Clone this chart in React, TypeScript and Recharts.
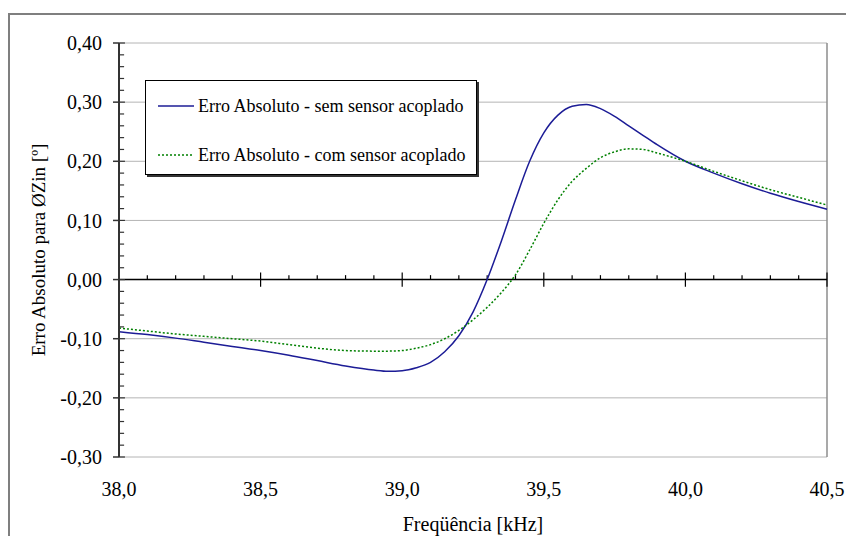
import React from 'react';
import {
  LineChart,
  Line,
  XAxis,
  YAxis,
  CartesianGrid,
  Legend,
  ReferenceLine,
  Label,
} from 'recharts';

// frequency (kHz) and absolute error (º)
const freq = [
  38.0, 38.1, 38.2, 38.3, 38.4, 38.5, 38.6, 38.7, 38.8, 38.9, 38.95, 39.0, 39.05, 39.1,
  39.15, 39.2, 39.25, 39.3, 39.35, 39.4, 39.45, 39.5, 39.55, 39.6, 39.65, 39.7, 39.75,
  39.8, 39.85, 39.9, 40.0, 40.1, 40.2, 40.3, 40.4, 40.5,
];
const semSensor = [
  -0.088, -0.093, -0.099, -0.106, -0.113, -0.12, -0.128, -0.137, -0.146, -0.153, -0.155,
  -0.154, -0.149, -0.14, -0.122, -0.095, -0.055, 0.0, 0.065, 0.135, 0.2, 0.248, 0.278,
  0.293, 0.296, 0.289, 0.276, 0.26, 0.244, 0.228, 0.2, 0.18, 0.162, 0.146, 0.132, 0.119,
];
const comSensor = [
  -0.082, -0.087, -0.092, -0.096, -0.1, -0.104, -0.11, -0.116, -0.12, -0.121, -0.121,
  -0.12, -0.116, -0.11, -0.1, -0.086, -0.068, -0.047, -0.022, 0.008, 0.05, 0.095, 0.135,
  0.166, 0.188, 0.206, 0.216, 0.221, 0.22, 0.214, 0.2, 0.183, 0.167, 0.152, 0.139, 0.126,
];

const xTicks = [38.0, 38.5, 39.0, 39.5, 40.0, 40.5];
const yTicks = [-0.3, -0.2, -0.1, 0.0, 0.1, 0.2, 0.3, 0.4];

const SERIES = [
  { key: 'sem', name: 'Erro Absoluto - sem sensor acoplado', color: '#1c1c96', dash: undefined },
  { key: 'com', name: 'Erro Absoluto - com sensor acoplado', color: '#008000', dash: '2 2' },
];

const data = freq.map((f, i) => ({ f, sem: semSensor[i], com: comSensor[i] }));

// minor tick positions (drawn on the zero line and inside the y axis)
const xMinor = Array.from({ length: 26 }, (_, i) => +(38 + i * 0.1).toFixed(1));
const yMinor = Array.from({ length: 36 }, (_, i) => +(-0.3 + i * 0.02).toFixed(2));

const FONT =
  '"Liberation Serif", "Times New Roman", Tinos, "DejaVu Serif", "Noto Serif", Times, serif';
const fmtY = (v: number) => v.toFixed(2).replace('.', ',');
const fmtX = (v: number) => v.toFixed(1).replace('.', ',');

const isMajorX = (f: number) => Math.abs(f * 2 - Math.round(f * 2)) < 1e-6;
const isMajorY = (v: number) => Math.abs(v * 10 - Math.round(v * 10)) < 1e-6;

function LegendBox() {
  return (
    <div
      style={{
        width: 330,
        height: 93,
        border: '1px solid #000',
        boxShadow: '2px 2px 0 #333',
        background: '#fff',
        fontFamily: FONT,
        fontSize: 18,
        color: '#000',
        position: 'relative',
      }}
    >
      {SERIES.map((s, i) => (
        <div
          key={s.key}
          style={{
            position: 'absolute',
            left: 12,
            top: 14 + i * 49,
            display: 'flex',
            alignItems: 'center',
            height: 22,
          }}
        >
          <svg width={36} height={4} style={{ marginRight: 4 }}>
            <line
              x1={0}
              y1={2}
              x2={36}
              y2={2}
              stroke={s.color}
              strokeWidth={1.5}
              strokeDasharray={s.dash}
            />
          </svg>
          <span style={{ whiteSpace: 'nowrap' }}>{s.name}</span>
        </div>
      ))}
    </div>
  );
}

function YTitle(props: any) {
  const vb = props.viewBox || { y: 43, height: 414 };
  const cx = 38;
  const cy = vb.y + vb.height / 2;
  return (
    <text
      x={cx}
      y={cy}
      transform={`rotate(-90, ${cx}, ${cy})`}
      textAnchor="middle"
      dominantBaseline="central"
      fill="#000"
      fontSize={19}
      fontFamily={FONT}
    >
      Erro Absoluto para ØZin [º]
    </text>
  );
}

export default function App() {
  return (
    <div
      style={{
        position: 'fixed',
        left: 0,
        top: 0,
        width: 846,
        height: 536,
        overflow: 'hidden',
        background: '#fff',
      }}
    >
      <div
        style={{
          position: 'absolute',
          left: 8,
          top: 13,
          width: 850,
          height: 540,
          borderTop: '2px solid #7f7f7f',
          borderLeft: '2px solid #7f7f7f',
          boxSizing: 'border-box',
        }}
      />
      <div style={{ position: 'absolute', left: 0, top: 0 }}>
        <LineChart
          width={846}
          height={536}
          data={data}
          margin={{ top: 43, right: 19, left: 0, bottom: 0 }}
        >
          <CartesianGrid horizontal vertical={false} stroke="#b4b4b4" strokeWidth={1} />
          <XAxis
            dataKey="f"
            type="number"
            domain={[38, 40.5]}
            ticks={xTicks}
            tickFormatter={fmtX}
            axisLine={false}
            tickLine={false}
            tickSize={0}
            tickMargin={25}
            height={79}
            tick={{ fill: '#000', fontSize: 20, fontFamily: FONT }}
            label={{
              value: 'Freqüência [kHz]',
              position: 'insideBottom',
              offset: 5,
              fill: '#000',
              fontSize: 20,
              fontFamily: FONT,
            }}
          />
          <YAxis
            type="number"
            domain={[-0.3, 0.4]}
            ticks={yTicks}
            tickFormatter={fmtY}
            width={119}
            axisLine={{ stroke: '#333', strokeWidth: 2 }}
            tickLine={{ stroke: '#333', strokeWidth: 1.5 }}
            tickSize={6}
            tickMargin={11}
            tick={{ fill: '#000', fontSize: 20, fontFamily: FONT }}
          >
            <Label content={YTitle} />
          </YAxis>
          <ReferenceLine x={40.5} stroke="#8c8c8c" strokeWidth={1.5} />
          <ReferenceLine y={0} stroke="#000" strokeWidth={1.5} />
          {xMinor.map((f) => (
            <ReferenceLine
              key={`xt${f}`}
              segment={
                isMajorX(f)
                  ? [{ x: f, y: -0.012 }, { x: f, y: 0.012 }]
                  : [{ x: f, y: 0 }, { x: f, y: 0.0075 }]
              }
              stroke="#000"
              strokeWidth={1.2}
            />
          ))}
          {yMinor.map((v) => (
            <ReferenceLine
              key={`yt${v}`}
              segment={[{ x: 38, y: v }, { x: isMajorY(v) ? 38.021 : 38.018, y: v }]}
              stroke="#333"
              strokeWidth={1.2}
            />
          ))}
          {SERIES.map((s) => (
            <Line
              key={s.key}
              type="monotone"
              dataKey={s.key}
              name={s.name}
              stroke={s.color}
              strokeWidth={1.5}
              strokeDasharray={s.dash}
              dot={false}
              isAnimationActive={false}
            />
          ))}
          <Legend
            layout="vertical"
            align="center"
            verticalAlign="middle"
            content={() => <LegendBox />}
            wrapperStyle={{ left: 145, top: 80, width: 334 }}
          />
        </LineChart>
      </div>
    </div>
  );
}
